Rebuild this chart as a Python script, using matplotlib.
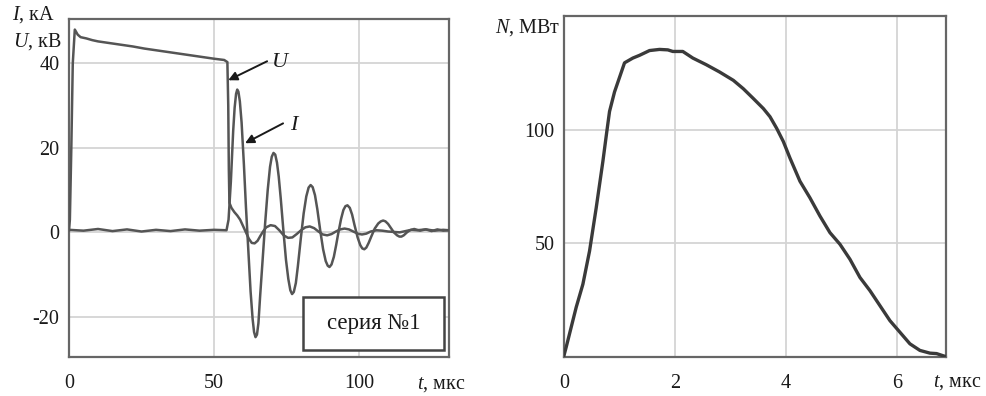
import matplotlib
matplotlib.use("Agg")
import matplotlib.pyplot as plt
from matplotlib.patches import Rectangle

plt.rcParams['font.family'] = ['Liberation Serif', 'DejaVu Serif']
plt.rcParams['mathtext.fontset'] = 'custom'
plt.rcParams['mathtext.rm'] = 'Liberation Serif'
plt.rcParams['mathtext.it'] = 'Liberation Serif:italic'

# ---------------- data: left panel (t, мкс) ----------------
t_I = [0, 5, 10, 15, 20, 25, 30, 35, 40, 45, 50, 54.3, 55.0, 55.8, 56.6, 57.1, 57.6,
       58.0, 58.4, 58.9, 59.5, 60.3, 61.0, 61.8, 62.6, 63.3, 63.8, 64.3, 64.8, 65.3,
       65.9, 66.8, 67.6, 68.5, 69.3, 69.9, 70.5, 71.1, 71.7, 72.3, 73.0, 73.9, 74.8,
       75.6, 76.3, 76.9, 77.5, 78.2, 78.9, 79.9, 80.9, 81.8, 82.6, 83.3, 84.0, 84.8,
       85.6, 86.6, 87.6, 88.5, 89.2, 89.8, 90.5, 91.3, 92.1, 92.8, 93.8, 94.6, 95.3,
       96.0, 96.8, 97.6, 98.4, 99.5, 100.4, 101.1, 101.8, 102.5, 103.3, 104.2, 105.4,
       106.6, 107.5, 108.3, 109.1, 110.0, 110.9, 112.0, 113.1, 113.9, 114.6, 115.4,
       116.5, 117.5, 119.0, 121.0, 123.0, 125.0, 127.0, 129.0, 131.0]
I_kA = [0.6, 0.4, 0.8, 0.3, 0.7, 0.2, 0.6, 0.3, 0.7, 0.4, 0.6, 0.5, 3, 12, 24, 29.5, 32.8,
        33.8, 33.3, 31, 26, 16, 6, -4, -14, -20.5, -23.6, -24.8, -24.2, -21.5,
        -15, -6, 2, 10, 15.5, 17.9, 18.8, 18.4, 16.5, 13.2, 8, 0.5, -6.5,
        -11, -13.7, -14.6, -14.1, -12, -8, -1.5, 4.5, 8.5, 10.6, 11.2, 10.7, 8.8,
        5.5, 0.5, -4, -6.8, -7.9, -8.2, -7.6, -5.8, -3, -0.3, 3.2, 5.3, 6.2,
        6.4, 5.8, 4.2, 1.8, -1.2, -3, -3.8, -4, -3.6, -2.5, -1, 0.9,
        2.1, 2.6, 2.8, 2.6, 2.0, 1.1, 0.0, -0.7, -1.0, -1.0, -0.7,
        0.0, 0.5, 0.8, 0.4, 0.7, 0.3, 0.7, 0.4, 0.5]

t_U = [0, 0.3, 0.8, 1.3, 2.0, 3, 4, 6, 8, 10, 14, 18, 22, 26, 30, 34, 38, 42, 46, 50,
       53.5, 54.6, 54.9, 55.1, 55.3, 56, 57, 58, 59, 60, 61, 62, 63, 64, 65, 66, 67, 68,
       69.5, 71, 72.5, 74, 75.5, 77, 78.5, 80, 81.5, 83, 84.5, 86, 87.5, 89, 90.5, 92,
       93.5, 95, 96.5, 98, 99.5, 101, 102.5, 104, 106, 108, 110, 112, 114, 116, 118,
       120, 123, 126, 129, 131]
U_kV = [0.5, 3, 20, 40, 48, 46.8, 46.2, 45.9, 45.5, 45.2, 44.8, 44.4, 44.0, 43.5, 43.1,
        42.7, 42.3, 41.9, 41.5, 41.1, 40.8, 40.3, 30, 15, 7, 5.8, 4.8, 4, 3, 1.5, 0,
        -1.5, -2.5, -2.6, -2, -0.8, 0.3, 1.2, 1.7, 1.5, 0.5, -0.7, -1.3, -1.2, -0.4,
        0.5, 1.2, 1.4, 1, 0.2, -0.5, -0.7, -0.4, 0.2, 0.7, 0.9, 0.7, 0.2, -0.3, -0.5,
        -0.3, 0.2, 0.5, 0.4, 0.2, 0.1, 0.0, 0.3, 0.6, 0.5, 0.7, 0.4, 0.6, 0.5]

# ---------------- data: right panel ----------------
t_N = [0, 0.04, 0.22, 0.34, 0.46, 0.58, 0.70, 0.77, 0.82, 0.91, 1.0, 1.09, 1.24, 1.36,
       1.54, 1.72, 1.87, 1.96, 2.14, 2.32, 2.56, 2.80, 3.05, 3.23, 3.41, 3.59, 3.71,
       3.83, 3.95, 4.07, 4.25, 4.43, 4.61, 4.79, 4.97, 5.15, 5.33, 5.51, 5.69, 5.87,
       6.05, 6.23, 6.41, 6.59, 6.71, 6.86]
N_MW = [0.7, 4.4, 21.9, 32, 46.6, 65.6, 86, 99, 108, 116.6, 123, 129.4, 131.5, 132.7,
        134.8, 135.3, 135.1, 134.4, 134.4, 131.5, 128.6, 125.4, 121.7, 118, 113.7,
        109.3, 105.7, 100.6, 94.8, 87.5, 77.3, 70, 62, 54.7, 49.6, 43, 35, 29.2, 22.6,
        16, 10.9, 5.8, 2.9, 1.7, 1.5, 0.3]

left_xticks = [0, 50, 100]
left_yticks = [-20, 0, 20, 40]
right_xticks = [0, 2, 4, 6]
right_yticks = [50, 100]

W, H = 987, 396
fig = plt.figure(figsize=(W / 100, H / 100), dpi=100)

def px_axes(x0, y0, x1, y1):
    return fig.add_axes([x0 / W, 1 - y1 / H, (x1 - x0) / W, (y1 - y0) / H])

spine_c = '#666666'
grid_c = '#d4d4d4'
tick_fs = 14.5

# ---- left panel ----
ax1 = px_axes(69, 19, 449, 357)
ax1.plot(t_U, U_kV, color='#555555', lw=1.8, zorder=3)
ax1.plot(t_I, I_kA, color='#555555', lw=1.8, zorder=3)
ax1.set_xlim(0, 131)
ax1.set_ylim(-29.5, 50.5)
ax1.set_xticks(left_xticks)
ax1.set_yticks(left_yticks)
ax1.set_xticklabels([str(v) for v in left_xticks])
ax1.set_yticklabels([str(v) for v in left_yticks])

# ---- right panel ----
ax2 = px_axes(564, 16, 946, 357)
ax2.plot(t_N, N_MW, color='#3a3a3a', lw=2.4, zorder=3)
ax2.set_xlim(0, 6.88)
ax2.set_ylim(0, 150)
ax2.set_xticks(right_xticks)
ax2.set_yticks(right_yticks)
ax2.set_xticklabels([str(v) for v in right_xticks])
ax2.set_yticklabels([str(v) for v in right_yticks])

for ax in (ax1, ax2):
    ax.grid(True, color=grid_c, lw=1.3)
    ax.set_axisbelow(True)
    for s in ax.spines.values():
        s.set_color(spine_c)
        s.set_linewidth(1.6)
    ax.tick_params(axis='both', length=0, labelsize=tick_fs, colors='#1a1a1a')
    ax.tick_params(axis='x', pad=12)
    ax.tick_params(axis='y', pad=7)

# annotations on left panel
arrow_kw = dict(arrowstyle='-|>', color='#1a1a1a', lw=1.4, mutation_scale=13,
                shrinkA=0, shrinkB=0)
ax1.annotate('', xy=(54.9, 36.0), xytext=(68.3, 40.5), arrowprops=arrow_kw, zorder=5)
ax1.text(73.0, 40.3, '$U$', fontsize=16, ha='center', va='center', color='#1a1a1a')
ax1.annotate('', xy=(60.7, 21.1), xytext=(73.8, 25.8), arrowprops=arrow_kw, zorder=5)
ax1.text(77.9, 25.3, '$I$', fontsize=16, ha='center', va='center', color='#1a1a1a')

# series box
ax1.add_patch(Rectangle((0.616, 0.021), 0.371, 0.157, transform=ax1.transAxes,
                        facecolor='white', edgecolor='#444444', lw=1.8, zorder=6))
ax1.text(0.8015, 0.099, 'серия №1', transform=ax1.transAxes, fontsize=16.5,
         ha='center', va='center', color='#1a1a1a', zorder=7)

# axis labels
def ftext(x, y, s, **kw):
    fig.text(x / W, 1 - y / H, s, fontsize=14.5, color='#1a1a1a', **kw)

ftext(12, 15, '$I$, кА', ha='left', va='center')
ftext(13, 42, '$U$, кВ', ha='left', va='center')
ftext(441, 385, '$t$, мкс', ha='center', va='center')
ftext(528, 28, '$N$, МВт', ha='center', va='center')
ftext(957, 383, '$t$, мкс', ha='center', va='center')

fig.savefig('out.png', dpi=100, facecolor='white')
